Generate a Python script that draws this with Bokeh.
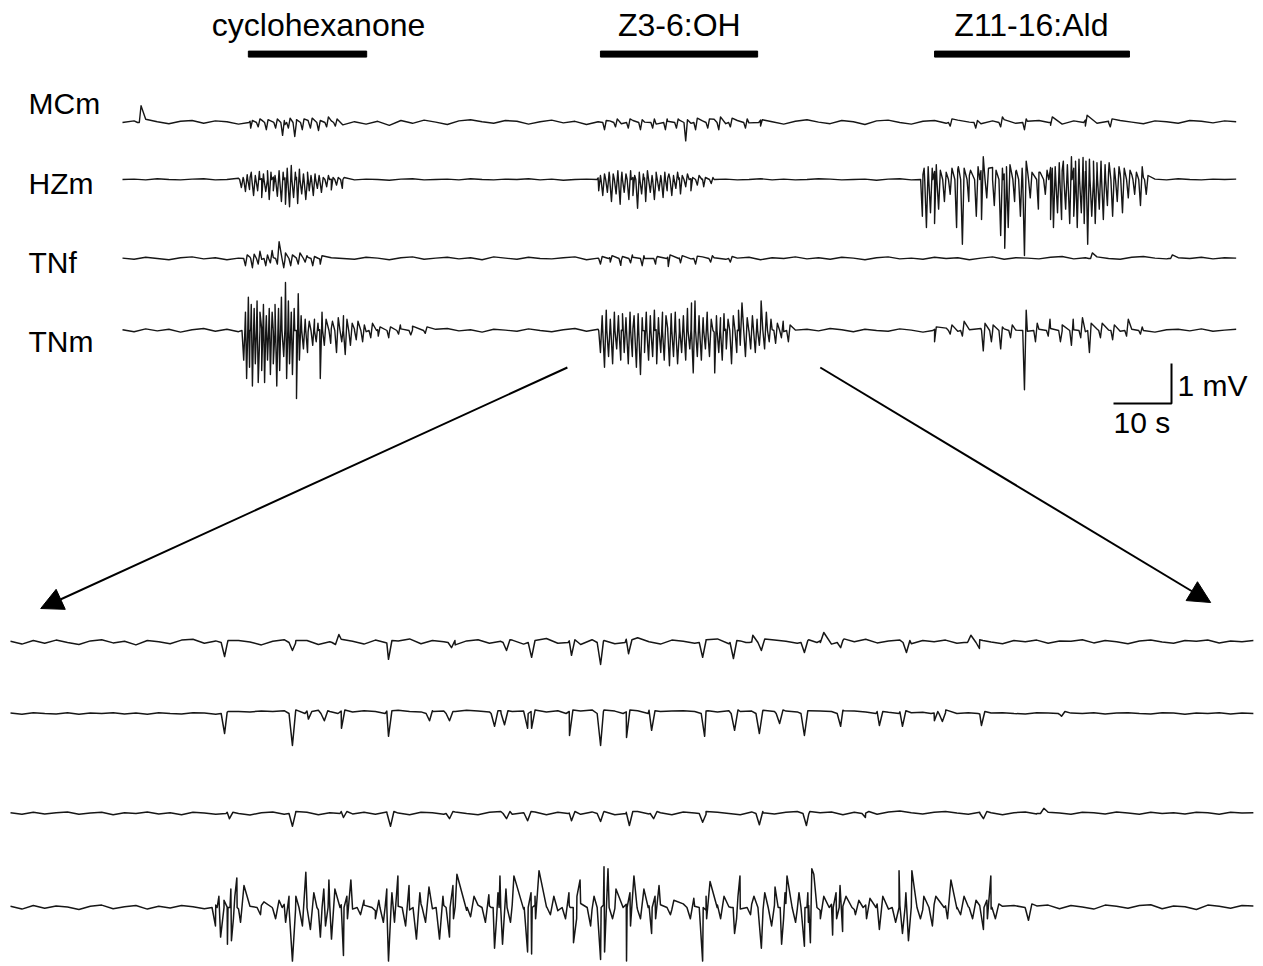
from bokeh.plotting import figure
from bokeh.models import Range1d, Label, Arrow, NormalHead
from bokeh.layouts import column
from bokeh.embed import file_html
from bokeh.resources import INLINE

# ---------------- DATA ----------------
CHANNELS = ["MCm", "HZm", "TNf", "TNm"]
ODORS = ["cyclohexanone", "Z3-6:OH", "Z11-16:Ald"]
STIM_START = [21.7, 82.4, 140.0]      # s
STIM_END = [42.1, 109.5, 173.6]       # s
ZOOM_WINDOW = [76.7, 120.3]           # s, expanded below
SCALE_S = 10                          # s
SCALE_MV = 1                          # mV

TOP_DT = 2.0      # s between baseline samples (overview)
BOT_DT = 0.4      # s between baseline samples (expanded)

# baseline samples (mV)
MCM_NOISE = [0,.04,.08,.02,-.03,.03,.05,-.02,.04,.02,-.04,.03,.06,.01,-.05,.02,.05,-.03,.04,-.06,
             .02,-.04,.03,-.07,.05,-.02,.06,.01,-.05,.04,.07,.02,-.02,.05,.03,-.04,.02,.06,-.01,.03,
             -.05,.02,.04,-.03,.05,.01,-.04,.03,.06,-.02,.04,.08,-.03,.05,-.01,.06,.02,-.04,.03,.07,
             .01,-.03,.05,.02,-.05,.04,.06,0,-.04,.03,.05,-.02,.06,.01,-.03,.04,.07,-.02,.03,.05,
             0,-.04,.04,.06,-.02,.03,.05,.01,-.03,.04,.02,-.02,.05,.03,-.01,.04,.02]
HZM_NOISE = [0,.01,-.01,.02,0,-.01,.01,.02,-.01,0,
             .03,.05,.02,.06,.04,.05,.03,.02,.01,0,
             -.01,.01,0,-.02,.01,.02,-.01,0,.01,-.01,
             .02,0,-.01,.01,0,.02,-.01,.01,-.02,0,.01,
             .04,.06,.03,.05,.04,.06,.03,.04,.02,.01,0,
             .01,-.01,0,.02,-.01,.01,-.01,0,.02,.01,-.01,0,.01,-.02,.01,.02,-.01,
             .12,.2,.15,.25,.1,.22,.3,.14,.2,.25,.18,.3,.22,.28,.2,.25,.18,.15,.12,.05,
             .01,-.01,.02,0,-.01,.01,0,.01]
TNF_NOISE = [.01,-.02,.03,0,-.03,.02,.04,-.01,.02,-.03,.01,.03,-.02,.02,-.04,.01,.03,-.01,.02,0,
             -.02,.03,.01,-.03,.02,.04,-.02,.01,.03,-.01,.02,-.03,.04,.01,-.02,.03,0,-.01,.02,.04,
             -.03,.01,.02,-.04,.03,0,-.02,.03,.01,-.01,.04,.02,-.02,.01,.03,-.03,.02,0,.04,-.01,
             .02,-.02,.03,.01,-.03,.02,.04,-.01,.01,-.02,.03,0,.02,-.03,.01,.04,-.02,.02,.01,-.01,
             .03,.05,-.01,.02,.04,0,-.02,.03,.05,.01,-.01,.02,0,.03,-.01,.02,.01]
TNM_NOISE = [.02,-.03,.04,-.01,.03,-.04,.02,.05,-.02,.03,-.03,.01,.04,-.02,.03,0,-.04,.02,.05,-.01,
             .03,-.03,.02,-.05,.04,.01,-.02,.03,.05,-.01,.02,-.04,.03,.01,-.02,.04,0,-.03,.02,.05,
             -.02,.03,-.04,.01,.04,-.01,.02,.05,-.03,.02,0,-.04,.03,.01,-.02,.04,.02,-.03,.01,.03,
             -.01,.05,.02,-.03,.03,0,-.02,.04,.01,-.04,.03,.06,-.02,.02,.05,-.03,.04,.01,-.02,.03,
             .05,-.01,.02,-.03,.04,.01,-.02,.03,0,-.04,.02,.03,-.01,.04,-.02,.01,.03]

# spike events (time s, trough mV, peak mV)
MCM_EVENTS = [(2.9,0,.42),
    (22.1,-.14,.05),(23.4,-.11,.09),(24.8,-.18,.07),(26.4,-.14,.09),(27.6,-.32,.05),(28.6,-.14,.11),
    (29.7,-.35,.07),(31.0,-.18,.09),(32.4,-.14,.11),(33.8,-.2,.05),(35.2,-.11,.14),(36.7,-.09,.09),
    (83.1,-.18,.05),(85.0,-.11,.09),(87.2,-.14,.09),(89.3,-.18,.07),(91.4,-.14,.09),(93.6,-.18,.09),
    (95.5,-.14,.09),(97.1,-.46,.07),(98.8,-.18,.11),(100.9,-.14,.09),(102.8,-.18,.14),(104.8,-.11,.11),
    (107.4,-.14,.09),(110.0,-.09,.07),
    (142.7,-.09,.09),(147.1,-.14,.05),(151.4,-.11,.14),(155.5,-.18,.09),(160.0,-.07,.14),(166.0,-.09,.18),
    (170.3,-.11,.09)]
HZM_EVENTS = [
    (20.5,-.2,.05),(21.2,-.3,.12),(21.9,-.25,.18),(22.6,-.4,.1),(23.3,-.28,.2),(24.0,-.45,.14),
    (24.7,-.3,.22),(25.3,-.5,.18),(26.0,-.28,.1),(26.7,-.42,.22),(27.4,-.55,.18),(28.1,-.62,.28),
    (28.8,-.68,.35),(29.5,-.45,.18),(30.2,-.6,.26),(30.9,-.36,.14),(31.6,-.5,.18),(32.2,-.28,.1),
    (32.9,-.4,.14),(33.6,-.22,.1),(34.3,-.32,.05),(35.2,-.18,.1),(36.0,-.26,.05),(36.9,-.14,.05),
    (37.9,-.22,.05),
    (82.1,-.28,.1),(82.8,-.4,.14),(83.6,-.32,.18),(84.3,-.55,.14),(85.1,-.36,.22),(85.8,-.62,.18),
    (86.5,-.32,.14),(87.3,-.5,.22),(88.0,-.4,.1),(88.8,-.72,.18),(89.5,-.36,.14),(90.2,-.55,.22),
    (91.0,-.32,.1),(91.7,-.5,.18),(92.5,-.28,.1),(93.2,-.45,.18),(93.9,-.28,.14),(94.7,-.4,.1),
    (95.4,-.22,.18),(96.2,-.36,.1),(97.1,-.18,.14),(98.0,-.28,.05),(99.1,-.14,.1),(100.2,-.18,.05),
    (101.5,-.1,.05),
    (137.9,-.92,.28),(138.6,-1.2,.32),(139.3,-.83,.28),(140.0,-1.1,.37),(140.7,-.74,.23),(141.7,-.55,.18),
    (142.7,-.37,.28),(143.8,-1.2,.32),(144.8,-1.62,.28),(145.9,-.55,.23),(147.2,-.92,.32),(148.1,-1.0,.57),
    (149.0,-.46,.28),(150.3,-.65,.23),(151.4,-1.4,.28),(152.1,-1.72,.32),(152.7,-1.2,.37),(153.8,-.55,.23),
    (154.8,-.92,.28),(155.5,-1.9,.46),(156.5,-.46,.18),(157.9,-.74,.18),(159.1,-.37,.23),(160.0,-1.0,.28),
    (160.5,-1.2,.32),(161.2,-.83,.42),(161.9,-1.0,.46),(162.6,-.74,.37),(163.3,-1.1,.57),(164.0,-.92,.46),
    (164.6,-1.2,.51),(165.3,-.83,.55),(165.8,-1.1,.46),(166.4,-1.62,.51),(167.1,-.92,.46),(167.7,-1.1,.42),
    (168.4,-.74,.46),(169.1,-1.0,.37),(169.8,-.65,.42),(170.7,-.92,.28),(171.5,-.55,.32),(172.4,-.83,.28),
    (173.4,-.46,.23),(174.5,-.37,.18),(175.5,-.65,.32),(176.5,-.37,.1)]
TNF_EVENTS = [
    (21.2,-.18,.09),(22.4,-.23,.11),(23.4,-.14,.18),(24.7,-.18,.09),(25.5,-.11,.2),(26.7,-.14,.42),
    (27.8,-.23,.14),(29.0,-.18,.09),(30.3,-.14,.14),(31.5,-.09,.07),(32.8,-.18,.05),(34.1,-.14,.07),
    (82.4,-.14,.05),(84.1,-.09,.07),(85.9,-.17,.05),(87.6,-.11,.09),(89.6,-.18,.07),(91.9,-.14,.05),
    (94.1,-.2,.09),(96.2,-.11,.07),(98.8,-.14,.06),(101.4,-.09,.07),(104.8,-.09,.05),
    (166.9,0,.14),(180.7,0,.09)]
TNM_EVENTS = [
    (20.9,-.74,.46),(21.4,-1.2,.83),(21.9,-.92,.65),(22.4,-1.39,.55),(22.9,-.83,.74),(23.4,-1.3,.46),
    (24.0,-1.0,.65),(24.5,-1.3,.37),(25.0,-.74,.55),(25.5,-1.1,.46),(26.0,-.83,.65),(26.6,-1.39,.55),
    (27.1,-1.0,.83),(27.8,-.65,1.2),(28.3,-1.2,.74),(28.8,-.83,.46),(29.3,-1.1,.55),(30.0,-1.7,.92),
    (30.5,-.74,.37),(31.2,-.46,.28),(31.9,-.55,.23),(32.8,-.37,.28),(33.4,-.28,.18),(34.1,-1.2,.46),
    (34.8,-.37,.28),(35.9,-.32,.23),(36.9,-.55,.32),(37.8,-.28,.37),(38.4,-.6,.28),(39.3,-.37,.18),
    (40.3,-.23,.23),(41.4,-.28,.14),(42.8,-.18,.18),(44.1,-.14,.09),(45.9,-.18,.09),(47.6,-.09,.14),
    (49.7,-.11,.11),(52.2,-.07,.09),
    (82.4,-.55,.37),(83.1,-.92,.51),(83.8,-.65,.28),(84.5,-.83,.46),(85.2,-.46,.37),(85.9,-.74,.42),
    (86.5,-.55,.32),(87.2,-.83,.46),(87.9,-.65,.37),(88.6,-.92,.42),(89.3,-1.1,.32),(90.0,-.55,.46),
    (90.7,-.74,.37),(91.4,-.65,.51),(92.1,-.83,.32),(92.8,-.55,.46),(93.4,-.74,.37),(94.3,-.88,.42),
    (95.0,-.65,.46),(95.7,-.83,.28),(96.4,-.55,.37),(97.1,-.74,.55),(97.8,-.46,.69),(98.4,-1.06,.74),
    (99.1,-.65,.37),(99.8,-.74,.32),(100.5,-.46,.46),(101.2,-.65,.28),(102.1,-1.06,.37),(102.8,-.55,.32),
    (103.4,-.74,.42),(104.1,-.46,.28),(105.0,-.83,.37),(105.9,-.55,.51),(106.5,-.37,.69),(107.4,-.65,.32),
    (108.3,-.46,.37),(109.1,-.55,.28),(109.8,-.37,.74),(110.7,-.46,.46),(111.5,-.28,.28),(112.6,-.32,.18),
    (113.6,-.18,.23),(114.8,-.28,.14),
    (140.0,-.28,.09),(142.7,-.09,.14),(144.8,-.14,.23),(148.4,-.51,.18),(149.8,-.28,.14),(151.4,-.46,.09),
    (153.1,-.18,.14),(155.5,-1.48,.51),(157.4,-.28,.18),(159.6,-.14,.28),(161.7,-.28,.14),(163.6,-.37,.28),
    (165.2,-.18,.32),(166.7,-.55,.18),(168.6,-.18,.18),(170.7,-.23,.14),(173.1,-.14,.28),(175.5,-.09,.09)]

# expanded window (time from window start, s)
B_MCM_NOISE = [.03,-.04,.05,-.02,.06,0,-.05,.04,.07,-.01,.03,-.06,.05,.02,-.03,.06,.08,-.02,.04,-.04,.05,.01,
               -.06,.03,.07,-.02,.05,-.05,.02,.08,.03,-.04,.06,-.01,.04,.09,-.03,.05,.02,-.06,.04,.07,-.02,.03,
               .06,-.04,.05,.1,-.02,.04,-.05,.07,.03,-.03,.08,.12,.02,-.04,.06,.03,-.02,.05,.09,-.03,.04,.01,
               -.05,.06,.03,-.02,.07,.04,-.04,.05,.02,.08,-.01,.04,.06,-.03,.05,.02,.06,-.02,.04,.07,.01,-.03,
               .05,.02,.06,-.02,.04,.03,.07,-.01,.05,.02,-.03,.04,.06,.01,-.02,.05,.03,.06,-.01,.04,.02,.05]
B_HZM_NOISE = [.01,-.02,.02,0,-.01,.02,-.02,.01,0,.02,-.01,.01,-.02,.02,0,-.01,.02,.01,-.02,.03,.05,.04,
               .06,.05,.07,.04,.06,.08,.05,.06,.04,.07,.05,.06,.08,.05,.04,.07,.06,.05,.08,.06,.04,.07,
               .05,.06,.08,.04,.07,.05,.06,.09,.05,.06,.04,.07,.08,.05,.06,.07,.05,.06,.04,.07,.05,.06,
               .08,.05,.06,.04,.07,.06,.05,.08,.06,.04,.05,.03,.04,.02,.03,.01,.02,0,.02,-.01,.01,.02,
               0,-.01,.02,.01,-.02,.01,0,.02,-.01,.01,.02,0,-.01,.02,.01,-.02,.01,0,.02,-.01,.01,0]
B_TNF_NOISE = [.02,-.02,.03,-.01,.02,.04,-.02,.01,.03,-.03,.02,0,.04,-.01,.02,-.03,.03,.01,-.02,.03,0,-.04,
               .02,.04,-.02,.01,.03,-.03,.02,.05,-.01,.03,-.02,.04,.01,-.03,.03,.02,-.02,.04,0,-.03,.03,.05,
               -.02,.02,.04,-.03,.03,.01,-.02,.04,.02,-.03,.03,.05,-.01,.02,-.03,.04,.01,-.02,.03,0,-.03,.04,
               .02,-.01,.03,.05,-.02,.02,.04,-.03,.03,.01,-.02,.04,.06,.02,-.01,.03,.05,.01,-.02,.03,.02,-.03,
               .02,.04,-.01,.03,.01,-.02,.03,.02,-.01,.04,.01,-.02,.03,0,.02,-.01,.03,.02,-.02,.03,.01,.02]
B_TNM_NOISE = [.03,-.04,.05,-.02,.04,.01,-.05,.03,.06,-.03,.02,.05,-.04,.03,-.01,.05,.02,-.03,.06,.01,-.04,.03,
               .05,-.03,.08,-.05,.1,-.06,.04,.07,-.04,.06,-.08,.05,.03,-.06,.09,-.03,.05,.02,-.07,.06,.04,-.05,
               .07,-.04,.06,.02,-.08,.05,.1,-.05,.06,-.03,.08,-.06,.04,.07,-.05,.09,.03,-.07,.06,.02,-.04,.08,
               -.05,.06,.1,-.04,.05,-.07,.08,.03,-.05,.06,.09,-.04,.05,.02,-.06,.07,.04,-.03,.02,.05,-.04,.03,
               .05,-.02,.04,.06,-.03,.05,.01,-.04,.06,.03,-.02,.05,.07,-.03,.04,.02,-.05,.06,.03,-.02,.05,.04]

B_MCM_EVENTS = [(7.51,-.35,.05),(9.89,-.2,.05),(11.40,-.05,.2),(13.26,-.42,.05),(15.47,-.13,.05),
    (17.40,-.2,.07),(18.28,-.37,.05),(19.68,-.32,.07),(20.70,-.55,.05),(21.68,-.28,.07),(24.28,-.37,.07),
    (25.36,-.4,.05),(25.92,0,.18),(26.34,-.2,.09),(27.85,-.25,.05),(28.41,0,.25),(29.12,-.13,.09),
    (31.43,-.25,.05),(33.57,0,.18),(33.99,-.15,.05)]
B_HZM_EVENTS = [(7.51,-.5,.05),(9.89,-.8,.09),(10.45,-.14,.05),(11.01,-.18,.07),(11.61,-.37,.09),
    (13.26,-.57,.07),(14.70,-.18,.05),(15.40,-.18,.05),(16.98,-.32,.07),(17.33,-.28,.07),(18.14,-.37,.05),
    (18.28,-.37,.09),(19.61,-.55,.09),(20.70,-.8,.09),(21.61,-.6,.09),(22.49,-.42,.07),(24.35,-.57,.07),
    (25.40,-.42,.09),(26.27,-.5,.07),(26.98,-.25,.09),(27.85,-.55,.07),(29.12,-.32,.07),(30.48,-.3,.05),
    (31.29,-.32,.07),(32.41,-.18,.05),(32.69,-.2,.09),(34.06,-.3,.05),(36.87,-.07,.05)]
B_TNF_EVENTS = [(7.68,-.13,.03),(9.89,-.32,.05),(11.68,-.1,.05),(13.33,-.32,.05),(15.40,-.13,.05),
    (17.40,-.13,.05),(18.14,-.18,.05),(19.68,-.18,.05),(20.70,-.2,.05),(21.71,-.3,.05),(22.56,-.13,.05),
    (24.28,-.22,.05),(26.27,-.28,.05),(27.92,-.3,.05),(29.99,-.1,.05),(34.13,-.13,.05),(36.13,0,.13)]
B_TNM_EVENTS = [(7.19,-.46,.28),(7.37,-.74,.18),(7.61,-.92,.46),(7.75,-.83,.28),(7.82,-.28,.74),
    (8.07,-.37,.55),(8.77,-.18,.14),(9.30,-.28,.18),(9.65,-.37,.28),(9.89,-1.34,.28),(10.24,-.46,.88),
    (10.52,-.55,.37),(10.87,-.74,.46),(11.05,-.46,.69),(11.26,-.79,.46),(11.68,-1.2,.28),(11.82,-.28,.69),
    (12.28,-.18,.18),(12.80,-.28,.18),(13.08,-.37,.46),(13.26,-1.34,.37),(13.47,-.37,.79),(13.86,-.46,.55),
    (14.24,-.79,.37),(14.56,-.37,.51),(15.05,-.79,.28),(15.40,-.74,.55),(15.54,-.28,.83),(16.14,-.23,.28),
    (16.66,-.37,.32),(16.98,-1.02,.37),(17.05,-.28,.79),(17.26,-.92,.46),(17.54,-.37,.79),(18.14,-1.11,.37),
    (18.28,-1.16,.28),(18.42,-.28,.92),(18.94,-.18,.28),(19.47,-.28,.37),(19.75,-.88,.28),(19.86,-.28,.69),
    (20.35,-.46,.28),(20.70,-1.3,1.02),(20.84,-1.11,.97),(21.12,-.28,.46),(21.61,-1.34,.37),(21.75,-.46,.79),
    (22.10,-.28,.46),(22.49,-.65,.28),(22.63,-.28,.55),(23.15,-.18,.18),(23.85,-.28,.23),(24.28,-1.34,.28),
    (24.42,-.28,.65),(24.91,-.28,.28),(25.40,-.65,.28),(25.47,-.28,.79),(25.96,-.18,.28),(26.34,-1.02,.37),
    (26.70,-.46,.51),(27.05,-.92,.37),(27.12,-.28,.79),(27.54,-.37,.37),(27.85,-.97,.37),(27.99,-.37,.97),
    (28.06,-.88,.83),(28.41,-.28,.28),(28.84,-.69,.37),(28.98,-.28,.55),(29.19,-.6,.28),(29.64,-.18,.18),
    (30.03,-.28,.23),(30.48,-.55,.28),(31.05,-.37,.92),(31.29,-.65,.37),(31.50,-.83,.92),(31.92,-.28,.28),
    (32.34,-.46,.28),(32.87,-.28,.69),(33.33,-.18,.28),(33.75,-.28,.18),(34.13,-.55,.18),(34.27,-.28,.79),
    (34.55,-.28,.09),(35.71,-.32,.09)]

# ---------------- LAYOUT (positions / styles) ----------------
W = 1263
TOP_H, BOT_H = 623, 343
INK = "#161616"
FONT = "Liberation Sans"
TOP_OFFSETS = {"MCm": 12.15, "HZm": 10.725, "TNf": 8.75, "TNm": 6.95}
BOT_OFFSETS = {"MCm": 7.9, "HZm": 6.125, "TNf": 3.625, "TNm": 1.275}
TOP_SPIKE_W = 0.3     # half-width of a drawn spike (s)
BOT_SPIKE_W = 0.12
LABEL_X = -16.2
LABEL_Y = {"MCm": 12.63, "HZm": 10.63, "TNf": 8.655, "TNm": 6.68}
ODOR_LABEL_X = [33.8, 96.0, 156.7]
ODOR_LABEL_Y = 14.58
BAR_Y, BAR_H = 13.86, 0.15
SCALE_X, SCALE_Y = 180.85, 5.125
ARROW_Y0 = 6.025
ARROW_ENDS = [(-14.1, 0.0), (187.6, 0.15)]


def build(dt, noise, events, base, w):
    pts = [(i * dt, base + n, 0) for i, n in enumerate(noise)]
    for t, lo, hi in events:
        pts.append((t - w, base, 1))
        pts.append((t, base + lo, 2))
        pts.append((t + w, base + hi, 3))
    pts.sort(key=lambda q: (q[0], q[2]))
    return [q[0] for q in pts], [q[1] for q in pts]


def make_fig(h, xr, yr):
    f = figure(width=W, height=h, x_range=xr, y_range=yr, output_backend="svg",
               toolbar_location=None, x_axis_type=None, y_axis_type=None,
               min_border=0, min_border_left=0, min_border_right=0,
               min_border_top=0, min_border_bottom=0)
    f.grid.visible = False
    f.outline_line_color = None
    f.background_fill_color = "white"
    f.border_fill_color = "white"
    return f


top = make_fig(TOP_H, Range1d(-21.03, 196.71), Range1d(-0.375, 15.2))
bot = make_fig(BOT_H, Range1d(-0.351, 43.955), Range1d(-0.2, 8.375))

top_data = {"MCm": (MCM_NOISE, MCM_EVENTS), "HZm": (HZM_NOISE, HZM_EVENTS),
            "TNf": (TNF_NOISE, TNF_EVENTS), "TNm": (TNM_NOISE, TNM_EVENTS)}
bot_data = {"MCm": (B_MCM_NOISE, B_MCM_EVENTS), "HZm": (B_HZM_NOISE, B_HZM_EVENTS),
            "TNf": (B_TNF_NOISE, B_TNF_EVENTS), "TNm": (B_TNM_NOISE, B_TNM_EVENTS)}

for ch in CHANNELS:
    n, ev = top_data[ch]
    xs, ys = build(TOP_DT, n, ev, TOP_OFFSETS[ch], TOP_SPIKE_W)
    top.line(xs, ys, line_color=INK, line_width=1.4, line_join="round")
    top.add_layout(Label(x=LABEL_X, y=LABEL_Y[ch], text=ch, text_font=FONT,
                         text_font_size="30px", text_color="black",
                         text_baseline="alphabetic", text_align="left"))
    n, ev = bot_data[ch]
    xs, ys = build(BOT_DT, n, ev, BOT_OFFSETS[ch], BOT_SPIKE_W)
    bot.line(xs, ys, line_color=INK, line_width=1.5, line_join="round")

# stimulus bars and odor names
top.hbar(y=BAR_Y, height=BAR_H, left=STIM_START, right=STIM_END,
         fill_color="black", line_color="black")
for name, x in zip(ODORS, ODOR_LABEL_X):
    top.add_layout(Label(x=x, y=ODOR_LABEL_Y, text=name, text_font=FONT,
                         text_font_size="32px", text_color="black",
                         text_align="center", text_baseline="alphabetic"))

# scale bar
top.line([SCALE_X - SCALE_S, SCALE_X, SCALE_X], [SCALE_Y, SCALE_Y, SCALE_Y + SCALE_MV],
         line_color="black", line_width=2)
top.add_layout(Label(x=SCALE_X + 1.05, y=SCALE_Y + 0.455, text=f"{SCALE_MV} mV", text_font=FONT,
                     text_font_size="30px", text_color="black", text_baseline="alphabetic"))
top.add_layout(Label(x=SCALE_X - SCALE_S, y=SCALE_Y - 0.47, text=f"{SCALE_S} s", text_font=FONT,
                     text_font_size="30px", text_color="black", text_baseline="alphabetic"))

# zoom arrows
for x0, (x1, y1) in zip(ZOOM_WINDOW, ARROW_ENDS):
    top.add_layout(Arrow(end=NormalHead(size=22, fill_color="black", line_color="black"),
                         x_start=x0, y_start=ARROW_Y0, x_end=x1, y_end=y1,
                         line_color="black", line_width=2))

layout = column(top, bot, spacing=0)
open("out.html", "w").write(file_html(layout, INLINE))
